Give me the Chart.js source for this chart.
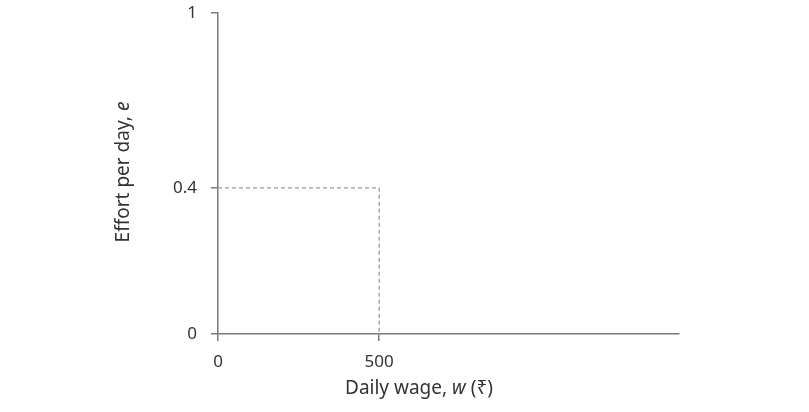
<!DOCTYPE html>
<html>
<head>
<meta charset="utf-8">
<script src="https://cdn.jsdelivr.net/npm/chart.js@4/dist/chart.umd.min.js"></script>
<style>
  html, body { margin: 0; padding: 0; background: #fff; }
  #wrap { width: 809px; height: 412px; }
</style>
</head>
<body>
<div id="wrap"><canvas id="myChart"></canvas></div>
<script>
// data
const wageTicks = [0, 500];
const effortTicks = [0, 0.4, 1];
const effortTickLabels = ['0', '0.4', '1'];
const refWage = [0, 500, 500];
const refEffort = [0.4, 0.4, 0];
const xMax = 1430;

// the picture's effort axis is drawn out of proportion: 0.4 sits at about 45% of the height
const yBreaks = [0, 0.4, 1];
const yFracs = [0, 0.455, 1];

class PiecewiseScale extends Chart.LinearScale {
  getPixelForValue(value) {
    let f = 0;
    for (let i = 1; i < yBreaks.length; i++) {
      if (value <= yBreaks[i] || i === yBreaks.length - 1) {
        const t = (value - yBreaks[i - 1]) / (yBreaks[i] - yBreaks[i - 1]);
        f = yFracs[i - 1] + t * (yFracs[i] - yFracs[i - 1]);
        break;
      }
    }
    return this.getPixelForDecimal(f);
  }
}
PiecewiseScale.id = 'piecewise';
PiecewiseScale.defaults = Chart.LinearScale.defaults;
Chart.register(PiecewiseScale);

const axisColor = '#7a7a7a';
const textColor = '#333';
const fontFamily = '"Noto Sans", "DejaVu Sans", sans-serif';

const titles = {
  id: 'titles',
  afterDraw(chart) {
    const c = chart.ctx;
    c.save();
    c.fillStyle = textColor;
    c.textBaseline = 'middle';
    const font = '19px ' + fontFamily;
    const ital = 'italic 19px ' + fontFamily;
    function mixed(parts, cx, cy, rot) {
      c.save();
      c.translate(cx, cy);
      c.rotate(rot);
      let w = 0;
      parts.forEach(p => { c.font = p[1] ? ital : font; w += c.measureText(p[0]).width; });
      let x = -w / 2;
      c.textAlign = 'left';
      parts.forEach(p => { c.font = p[1] ? ital : font; c.fillText(p[0], x, 0); x += c.measureText(p[0]).width; });
      c.restore();
    }
    mixed([['Daily wage, ', false], ['w', true], [' (₹)', false]], 419, 389, 0);
    mixed([['Effort per day, ', false], ['e', true]], 124, 172, -Math.PI / 2);
    c.restore();
  }
};

const ctx = document.getElementById('myChart');
new Chart(ctx, {
  type: 'line',
  data: {
    datasets: [{
      data: refWage.map((w, i) => ({ x: w, y: refEffort[i] })),
      borderColor: '#9a9a9a',
      borderWidth: 1.3,
      borderDash: [4, 3],
      pointRadius: 0,
      fill: false,
      tension: 0
    }]
  },
  options: {
    responsive: true,
    maintainAspectRatio: false,
    animation: false,
    layout: { padding: { left: 0, right: 130, top: 13, bottom: 0 } },
    plugins: { legend: { display: false }, tooltip: { enabled: false } },
    scales: {
      x: {
        type: 'linear',
        min: 0,
        max: xMax,
        afterBuildTicks: s => { s.ticks = wageTicks.map(v => ({ value: v })); },
        afterFit: s => { s.height = 78; s.paddingLeft = 0; s.paddingRight = 0; },
        ticks: { color: textColor, font: { family: fontFamily, size: 17 }, padding: 11, maxRotation: 0 },
        grid: { drawOnChartArea: false, drawTicks: true, tickLength: 7, color: axisColor, lineWidth: 1.5 },
        border: { color: axisColor, width: 1.5 }
      },
      y: {
        type: 'piecewise',
        min: 0,
        max: 1,
        afterBuildTicks: s => { s.ticks = effortTicks.map(v => ({ value: v })); },
        afterFit: s => { s.width = 218; s.paddingTop = 0; s.paddingBottom = 0; },
        ticks: {
          color: textColor, font: { family: fontFamily, size: 17 }, padding: 14,
          callback: (v, i) => effortTickLabels[i]
        },
        grid: { drawOnChartArea: false, drawTicks: true, tickLength: 7, color: axisColor, lineWidth: 1.5 },
        border: { color: axisColor, width: 1.5 }
      }
    }
  },
  plugins: [titles]
});
</script>
</body>
</html>
